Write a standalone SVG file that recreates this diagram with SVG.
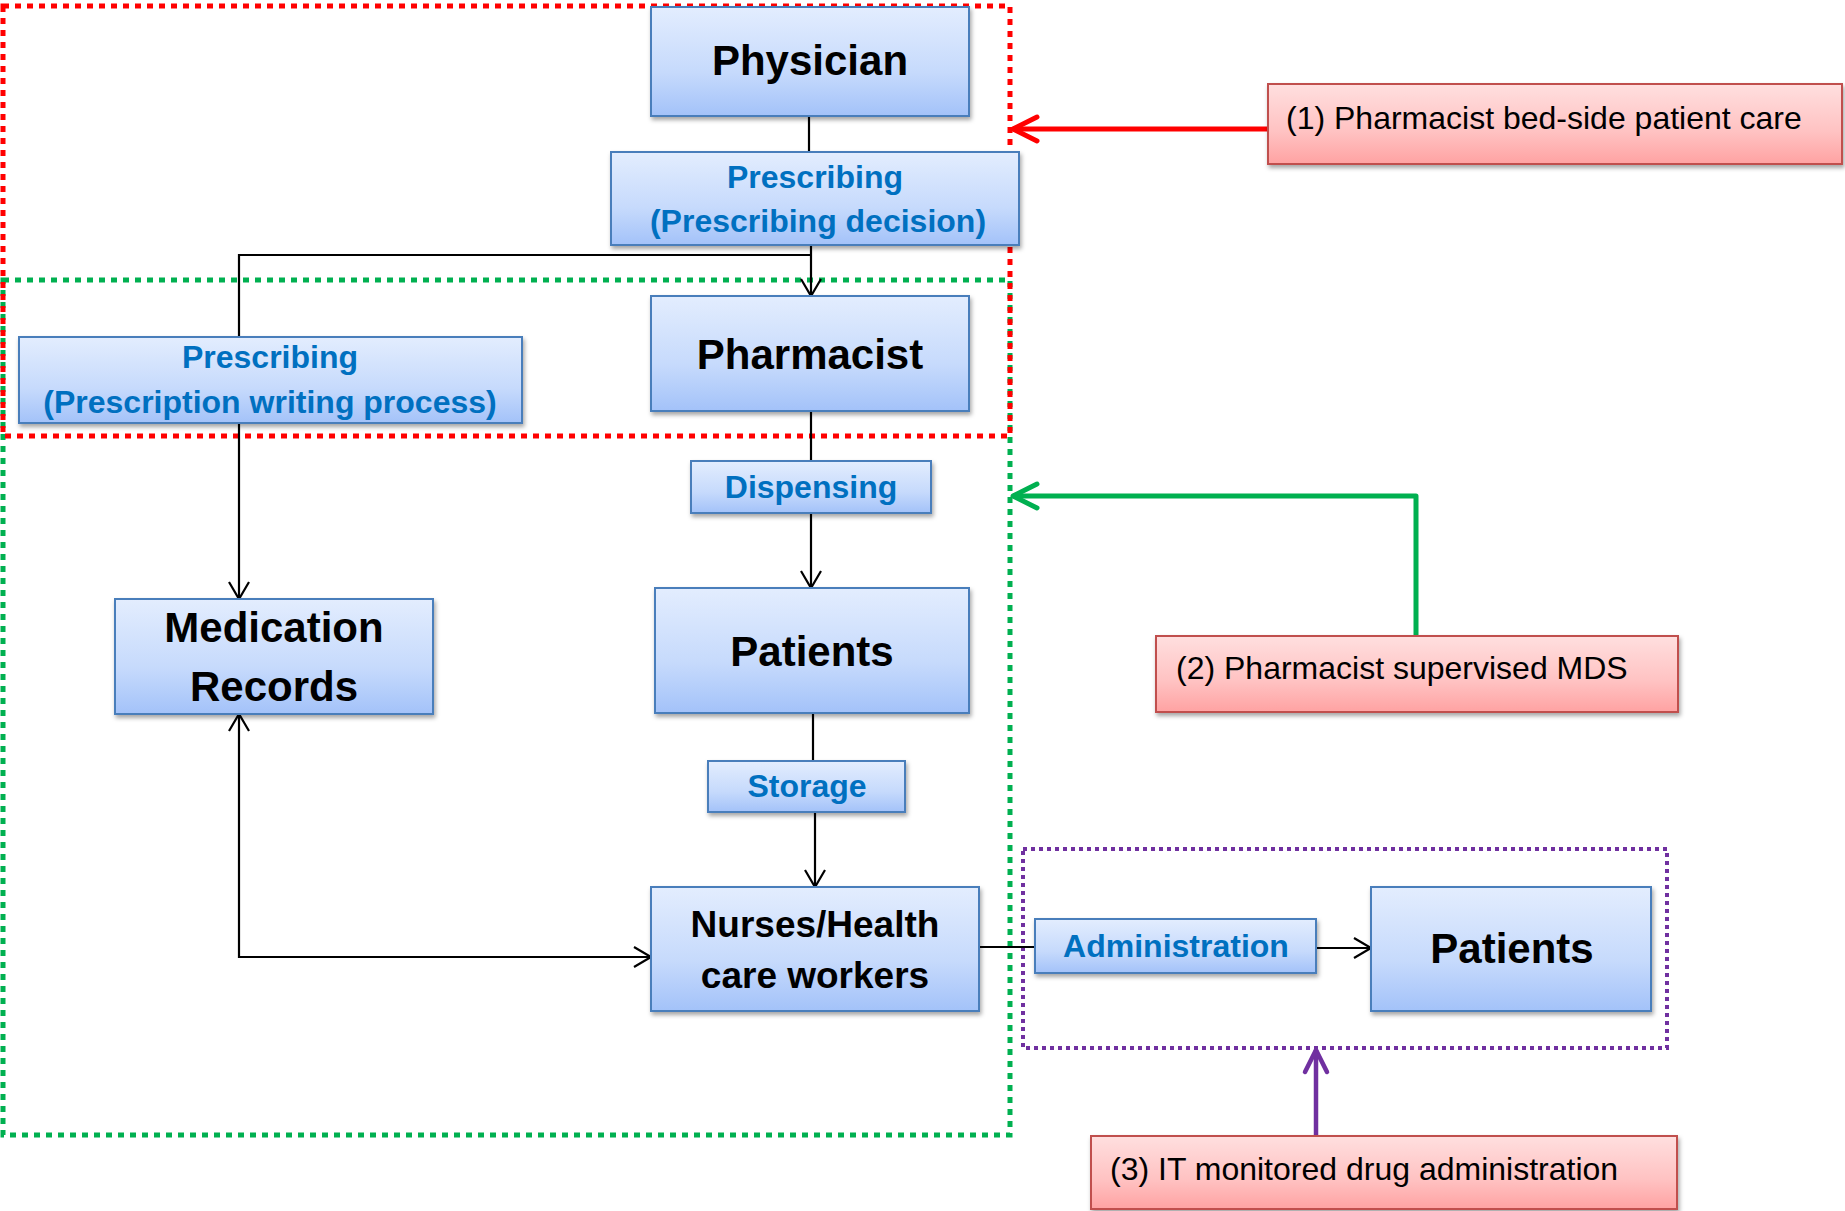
<svg xmlns="http://www.w3.org/2000/svg" width="1845" height="1211" viewBox="0 0 1845 1211">
  <defs>
    <linearGradient id="gBlue" x1="0" y1="0" x2="0" y2="1">
      <stop offset="0" stop-color="#e3edfe"/>
      <stop offset="0.6" stop-color="#c6dafc"/>
      <stop offset="1" stop-color="#a3c2f9"/>
    </linearGradient>
    <linearGradient id="gPink" x1="0" y1="0" x2="0" y2="1">
      <stop offset="0" stop-color="#ffdfdf"/>
      <stop offset="0.6" stop-color="#ffc2c2"/>
      <stop offset="1" stop-color="#ffa2a2"/>
    </linearGradient>
    <filter id="shadow" x="-10%" y="-10%" width="120%" height="130%">
      <feDropShadow dx="1.5" dy="3" stdDeviation="2" flood-color="#000" flood-opacity="0.35"/>
    </filter>
    <marker id="arrow" markerUnits="userSpaceOnUse" viewBox="-20 -12 22 24" refX="0" refY="0" markerWidth="22" markerHeight="24" orient="auto-start-reverse" overflow="visible">
      <path d="M-17,-10 L0,0 L-17,10" fill="none" stroke="#000" stroke-width="2.2"/>
    </marker>
    <marker id="arrowRed" markerUnits="userSpaceOnUse" viewBox="-30 -16 32 32" refX="0" refY="0" markerWidth="32" markerHeight="32" orient="auto" overflow="visible">
      <path d="M-24,-12 L0,0 L-24,12" fill="none" stroke="#ff0000" stroke-width="5" stroke-linecap="round" stroke-linejoin="round"/>
    </marker>
    <marker id="arrowGreen" markerUnits="userSpaceOnUse" viewBox="-30 -16 32 32" refX="0" refY="0" markerWidth="32" markerHeight="32" orient="auto" overflow="visible">
      <path d="M-24,-12 L0,0 L-24,12" fill="none" stroke="#00b050" stroke-width="5" stroke-linecap="round" stroke-linejoin="round"/>
    </marker>
    <marker id="arrowPurple" markerUnits="userSpaceOnUse" viewBox="-30 -16 32 32" refX="0" refY="0" markerWidth="32" markerHeight="32" orient="auto" overflow="visible">
      <path d="M-22,-11 L0,0 L-22,11" fill="none" stroke="#7030a0" stroke-width="4.5" stroke-linecap="round" stroke-linejoin="round"/>
    </marker>
  </defs>
  <style>
    .box { fill: url(#gBlue); stroke: #4a7ebb; stroke-width: 2; filter: url(#shadow); }
    .pink { fill: url(#gPink); stroke: #c0504d; stroke-width: 2; filter: url(#shadow); }
    .big { font-family: "Liberation Sans", Arial, sans-serif; font-weight: bold; font-size: 42px; fill: #000; text-anchor: middle; }
    .mid { font-family: "Liberation Sans", Arial, sans-serif; font-weight: bold; font-size: 37px; fill: #000; text-anchor: middle; }
    .lbl { font-family: "Liberation Sans", Arial, sans-serif; font-weight: bold; font-size: 32px; fill: #0070c0; text-anchor: middle; }
    .note { font-family: "Liberation Sans", Arial, sans-serif; font-size: 32px; fill: #000; }
    .conn { fill: none; stroke: #000; stroke-width: 2.2; }
    .frame { fill: none; }
  </style>

  <rect width="1845" height="1211" fill="#fff"/>

  <!-- scope frames -->
  <g id="frames">
    <rect class="frame" x="3" y="280" width="1007" height="855" stroke="#00b050" stroke-width="5" stroke-dasharray="6 6"/>
    <rect class="frame" x="3" y="6" width="1007" height="430" stroke="#ff0000" stroke-width="5" stroke-dasharray="6 6"/>
    <rect class="frame" x="1023" y="849" width="644" height="199" stroke="#7030a0" stroke-width="4" stroke-dasharray="4 4"/>
  </g>

  <!-- flow connectors -->
  <g id="connectors">
    <path class="conn" d="M809,116 V152"/>
    <path class="conn" d="M811,245 V296" marker-end="url(#arrow)"/>
    <path class="conn" d="M811,255 H239 V337"/>
    <path class="conn" d="M239,423 V599" marker-end="url(#arrow)"/>
    <path class="conn" d="M811,411 V461"/>
    <path class="conn" d="M811,513 V588" marker-end="url(#arrow)"/>
    <path class="conn" d="M813,713 V761"/>
    <path class="conn" d="M815,812 V887" marker-end="url(#arrow)"/>
    <path class="conn" d="M239,714 V957 H651" marker-start="url(#arrow)" marker-end="url(#arrow)"/>
    <path class="conn" d="M980,947 H1035"/>
    <path class="conn" d="M1316,948 H1371" marker-end="url(#arrow)"/>
    <path d="M1268,129 H1013" fill="none" stroke="#ff0000" stroke-width="5" marker-end="url(#arrowRed)"/>
    <path d="M1416,636 V496 H1013" fill="none" stroke="#00b050" stroke-width="5" stroke-linejoin="round" marker-end="url(#arrowGreen)"/>
    <path d="M1316,1136 V1050" fill="none" stroke="#7030a0" stroke-width="4.5" marker-end="url(#arrowPurple)"/>
  </g>

  <g id="physician">
    <rect class="box" x="651" y="7" width="318" height="109"/>
    <text class="big" x="810" y="75">Physician</text>
  </g>

  <g id="prescribing-decision">
    <rect class="box" x="611" y="152" width="408" height="93"/>
    <text class="lbl" x="815" y="188">Prescribing</text>
    <text class="lbl" x="818" y="232">(Prescribing decision)</text>
  </g>

  <g id="prescription-writing">
    <rect class="box" x="19" y="337" width="503" height="86"/>
    <text class="lbl" x="270" y="368">Prescribing</text>
    <text class="lbl" x="270" y="413">(Prescription writing process)</text>
  </g>

  <g id="pharmacist">
    <rect class="box" x="651" y="296" width="318" height="115"/>
    <text class="big" x="810" y="369">Pharmacist</text>
  </g>

  <g id="dispensing">
    <rect class="box" x="691" y="461" width="240" height="52"/>
    <text class="lbl" x="811" y="498">Dispensing</text>
  </g>

  <g id="patients">
    <rect class="box" x="655" y="588" width="314" height="125"/>
    <text class="big" x="812" y="666">Patients</text>
  </g>

  <g id="medication-records">
    <rect class="box" x="115" y="599" width="318" height="115"/>
    <text class="big" x="274" y="642">Medication</text>
    <text class="big" x="274" y="701">Records</text>
  </g>

  <g id="storage">
    <rect class="box" x="708" y="761" width="197" height="51"/>
    <text class="lbl" x="807" y="797">Storage</text>
  </g>

  <g id="nurses">
    <rect class="box" x="651" y="887" width="328" height="124"/>
    <text class="mid" x="815" y="937">Nurses/Health</text>
    <text class="mid" x="815" y="988">care workers</text>
  </g>

  <g id="administration">
    <rect class="box" x="1035" y="919" width="281" height="54"/>
    <text class="lbl" x="1176" y="957">Administration</text>
  </g>

  <g id="patients-administered">
    <rect class="box" x="1371" y="887" width="280" height="124"/>
    <text class="big" x="1512" y="963">Patients</text>
  </g>

  <g id="note-bedside">
    <rect class="pink" x="1268" y="84" width="574" height="80"/>
    <text class="note" x="1286" y="129">(1) Pharmacist bed-side patient care</text>
  </g>

  <g id="note-mds">
    <rect class="pink" x="1156" y="636" width="522" height="76"/>
    <text class="note" x="1176" y="679">(2) Pharmacist supervised MDS</text>
  </g>

  <g id="note-it">
    <rect class="pink" x="1091" y="1136" width="586" height="73"/>
    <text class="note" x="1110" y="1180">(3) IT monitored drug administration</text>
  </g>
</svg>
